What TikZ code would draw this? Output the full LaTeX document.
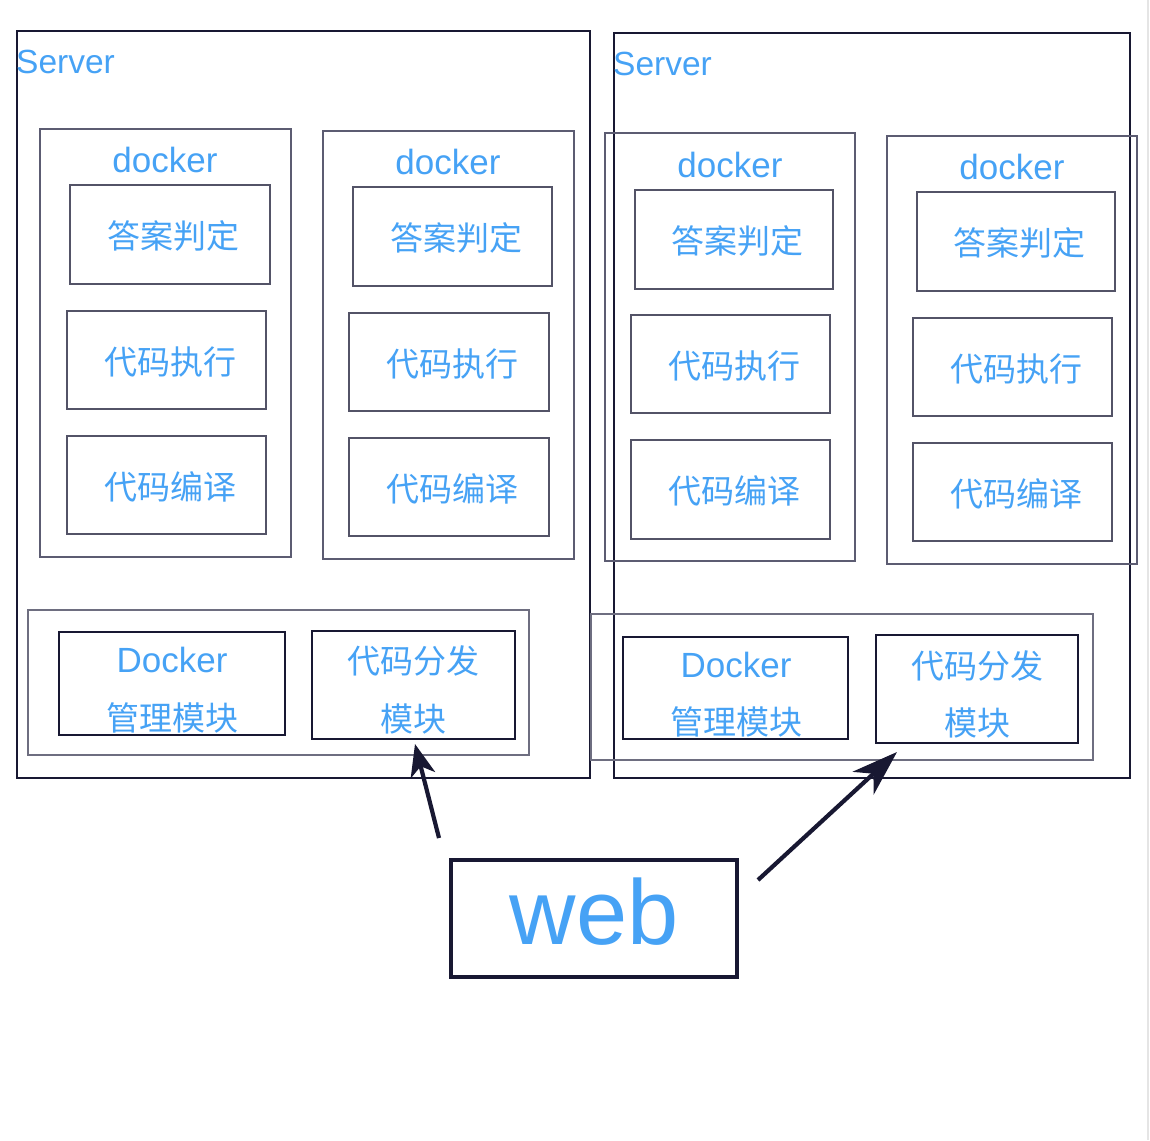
\documentclass[tikz,border=0pt]{standalone}
\usepackage{fontspec}
\setmainfont{Liberation Sans}
\newfontfamily\cjk{Noto Sans CJK SC}
\usetikzlibrary{arrows.meta}
\definecolor{txtblue}{RGB}{70,162,245}
\definecolor{navy}{RGB}{24,24,50}
\definecolor{boxgray}{RGB}{92,92,114}
\definecolor{grpgray}{RGB}{110,110,128}
\tikzset{
  serverbox/.style={draw=navy, line width=2pt, inner sep=0pt},
  dockerbox/.style={draw=boxgray, line width=1.5pt, inner sep=0pt},
  funcbox/.style={draw=boxgray!90!black, line width=1.5pt, inner sep=0pt,
     label={[zh, xshift=3.5pt, yshift=-1.5pt]center:#1}},
  groupbox/.style={draw=grpgray, line width=1.2pt, inner sep=0pt},
  mgmtbox/.style={draw=navy, line width=2.2pt, inner sep=0pt},
  lat/.style={text=txtblue, inner sep=0pt, font=\fontsize{33.5}{36}\selectfont},
  dlat/.style={text=txtblue, inner sep=0pt, font=\fontsize{35}{38}\selectfont},
  zh/.style={text=txtblue, inner sep=0pt, font=\cjk\fontsize{33}{36}\selectfont},
  webbox/.style={draw=navy, line width=4.5pt, inner sep=0pt},
  arr/.style={draw=navy, line width=4.2pt}
}
\newcommand{\rbox}[6]{% style, name, x1, y1, x2, y2
  \node[#1, minimum width={(#5)-(#3)}, minimum height={(#6)-(#4)}] (#2) at ({((#3)+(#5))/2},{((#4)+(#6))/2}) {};}
\begin{document}
\begin{tikzpicture}[x=1pt,y=-1pt]
\useasboundingbox (0,0) rectangle (1150,1140);
\draw[black!10, line width=2pt] (1148,0) -- (1148,1140);

% servers
\rbox{serverbox}{srvL}{17}{31}{590}{778}
\rbox{serverbox}{srvR}{614}{33}{1130}{778}
\node[lat, anchor=west] (srvLt) at (16,62) {Server};
\node[lat, anchor=west] (srvRt) at (613,64) {Server};

% docker boxes
\rbox{dockerbox}{dL1}{40}{129}{291}{557}
\rbox{dockerbox}{dL2}{323}{131}{574}{559}
\rbox{dockerbox}{dR1}{605}{133}{855}{561}
\rbox{dockerbox}{dR2}{887}{136}{1137}{564}
\node[dlat] (dL1t) at (165,160) {docker};
\node[dlat] (dL2t) at (448,162) {docker};
\node[dlat] (dR1t) at (730,165) {docker};
\node[dlat] (dR2t) at (1012,167) {docker};

% function boxes
\node[funcbox=答案判定, minimum width=200pt, minimum height=99pt] (jL1) at (170,234.5) {};
\node[funcbox=代码执行, minimum width=199pt, minimum height=98pt] (eL1) at (166.5,360) {};
\node[funcbox=代码编译, minimum width=199pt, minimum height=98pt] (cL1) at (166.5,485) {};

\node[funcbox=答案判定, minimum width=199pt, minimum height=99pt] (jL2) at (452.5,236.5) {};
\node[funcbox=代码执行, minimum width=200pt, minimum height=98pt] (eL2) at (449,362) {};
\node[funcbox=代码编译, minimum width=200pt, minimum height=98pt] (cL2) at (449,487) {};

\node[funcbox=答案判定, minimum width=198pt, minimum height=99pt] (jR1) at (734,239.5) {};
\node[funcbox=代码执行, minimum width=199pt, minimum height=98pt] (eR1) at (730.5,364) {};
\node[funcbox=代码编译, minimum width=199pt, minimum height=99pt] (cR1) at (730.5,489.5) {};

\node[funcbox=答案判定, minimum width=198pt, minimum height=99pt] (jR2) at (1016,241.5) {};
\node[funcbox=代码执行, minimum width=199pt, minimum height=98pt] (eR2) at (1012.5,367) {};
\node[funcbox=代码编译, minimum width=199pt, minimum height=98pt] (cR2) at (1012.5,492) {};

% bottom groups
\rbox{groupbox}{gL}{28}{610}{529}{755}
\rbox{groupbox}{gR}{591}{614}{1093}{760}
\rbox{mgmtbox}{mgL}{59}{632}{285}{735}
\rbox{mgmtbox}{dsL}{312}{631}{515}{739}
\rbox{mgmtbox}{mgR}{623}{637}{848}{739}
\rbox{mgmtbox}{dsR}{876}{635}{1078}{743}
\node[dlat] (mgLa) at (172,660) {Docker};
\node[zh]  (mgLb) at (172,718) {管理模块};
\node[zh]  (dsLa) at (413,661) {代码分发};
\node[zh]  (dsLb) at (413,719) {模块};
\node[dlat] (mgRa) at (736,665) {Docker};
\node[zh]  (mgRb) at (736,722) {管理模块};
\node[zh]  (dsRa) at (977,666) {代码分发};
\node[zh]  (dsRb) at (977,723) {模块};

% web
\node[webbox, minimum width=286pt, minimum height=117pt] (web) at (594,918.5) {};
\node[text=txtblue, inner sep=0pt, font=\fontsize{92}{100}\selectfont] (webt) at (594,912) {web};

% arrows
\coordinate (tailL) at (439,838);
\coordinate (tipL) at (415,744);
\coordinate (tailR) at (758,880);
\coordinate (tipR) at (897,752);
\draw[arr, -{Stealth[length=32pt, width=25pt, inset=9pt]}] (tailL) -- (tipL);
\draw[arr, -{Stealth[length=46pt, width=31pt, inset=14pt]}] (tailR) -- (tipR);
\end{tikzpicture}
\end{document}
